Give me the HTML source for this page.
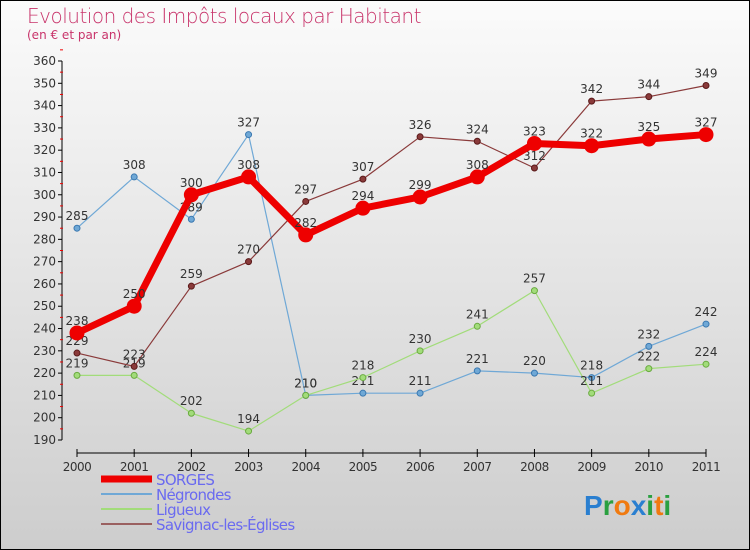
<!DOCTYPE html>
<html><head><meta charset="utf-8"><style>
body{margin:0}
#c{position:relative;width:750px;height:550px;box-sizing:border-box;border:1px solid #000;background:linear-gradient(#fbfbfb,#cdcdcd);font-family:"DejaVu Sans","Liberation Sans",sans-serif;overflow:hidden}
.t{position:absolute;color:#c8336a}
</style></head><body>
<div id="c">
<div class="t" style="left:26px;top:3px;font-size:20px;font-weight:200;letter-spacing:-0.5px">Evolution des Impôts locaux par Habitant</div>
<div class="t" style="left:26px;top:27px;font-size:12px">(en € et par an)</div>
<svg id="s" width="750" height="550" style="position:absolute;left:0;top:0"></svg>
</div>
<script>
const years=["2000","2001","2002","2003","2004","2005","2006","2007","2008","2009","2010","2011"];
const yTicks=[190,200,210,220,230,240,250,260,270,280,290,300,310,320,330,340,350,360];
const sorges=[238,250,300,308,282,294,299,308,323,322,325,327];
const negrondes=[285,308,289,327,210,211,211,221,220,218,232,242];
const ligueux=[219,219,202,194,210,218,230,241,257,211,222,224];
const savignac=[229,223,259,270,297,307,326,324,312,342,344,349];
const NS="http://www.w3.org/2000/svg",svg=document.getElementById('s');
const x=i=>76+i*(705-76)/11;
const y=v=>439-(v-190)*(439-60)/170;
function mk(t,a,p){const e=document.createElementNS(NS,t);for(const k in a)e.setAttribute(k,a[k]);(p||svg).appendChild(e);return e;}
// axes
let ya=mk('line',{x1:61,y1:60,x2:61,y2:439,stroke:'#000','stroke-width':1});

let xa=mk('line',{x1:76,y1:452,x2:705,y2:452,stroke:'#000','stroke-width':1});

yTicks.forEach(v=>{mk('line',{x1:57,x2:61,y1:y(v),y2:y(v),stroke:'#000'});
 mk('line',{x1:59,x2:62,y1:y(v+5),y2:y(v+5),stroke:'#e00'});
 const t=mk('text',{x:55,y:y(v)+4,'text-anchor':'end','font-size':12,fill:'#333'});t.textContent=v;
 });
years.forEach((yr,i)=>{mk('line',{x1:x(i),x2:x(i),y1:448,y2:456,stroke:'#000'});
 const t=mk('text',{x:x(i),y:470,'text-anchor':'middle','font-size':12,fill:'#333','letter-spacing':'-0.5'});t.textContent=yr;
 });
function series(d,col,dark,w,r,name){
 const g=mk('g',{});
 mk('polyline',{points:d.map((v,i)=>x(i)+','+y(v)).join(' '),fill:'none',stroke:col,'stroke-width':w,'stroke-linejoin':'round'},g);
 d.forEach((v,i)=>{const c=mk('circle',{cx:x(i),cy:y(v),r:r,fill:col,stroke:dark,'stroke-width':1},g);
  
  const t=mk('text',{x:x(i),y:y(v)-8,'text-anchor':'middle','font-size':12,fill:'#333'},g);t.textContent=v;
  });
}
series(negrondes,'#6fa8d6','#3a78b0',1.2,3,'negrondes');
series(ligueux,'#a2dc7a','#6aaa40',1.2,3,'ligueux');
series(savignac,'#8a3a3a','#5a1a1a',1.2,3,'savignac');
series(sorges,'#ee0000','#ee0000',7,7,'sorges');
// legend
const leg=[['SORGES','#ee0000',7],['Négrondes','#6fa8d6',2],['Ligueux','#a2dc7a',2],['Savignac-les-Églises','#9a6060',2]];
leg.forEach((l,i)=>{const g=mk('g',{});
 const yy=524-0+(i-3)*15; mk('line',{x1:100,x2:151,y1:yy-1,y2:yy-1,stroke:l[1],'stroke-width':l[2]},g);
 const t=mk('text',{x:155,y:yy+5,'font-size':15,fill:'#6a6af0','letter-spacing':'-0.7'},g);t.textContent=l[0];});
// logo
const lg=mk('text',{x:583,y:514,'font-size':28,'font-weight':'bold','font-family':'"Liberation Sans",sans-serif'});

[['P','#2a7fd0'],['r','#2aa040'],['o','#f07a10'],['x','#2a7fd0'],['i','#2aa040'],['t','#f07a10'],['i','#2aa040']].forEach(p=>{const s=mk('tspan',{fill:p[1]},lg);s.textContent=p[0];});
</script>
</body></html>
